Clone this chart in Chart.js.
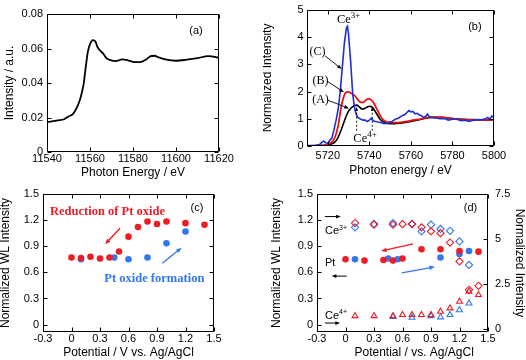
<!DOCTYPE html>
<html>
<head>
<meta charset="utf-8">
<script src="https://cdn.jsdelivr.net/npm/chart.js@4.4.1/dist/chart.umd.min.js"></script>
<style>
  html, body { margin: 0; padding: 0; background: #fff; }
  #page { position: relative; width: 526px; height: 360px; overflow: hidden; }
  canvas { position: absolute; }
</style>
</head>
<body>
<div id="page">
  <canvas id="chartA" width="263" height="180" style="left:0;top:0"></canvas>
  <canvas id="chartB" width="263" height="180" style="left:263px;top:0"></canvas>
  <canvas id="chartC" width="263" height="180" style="left:0;top:180px"></canvas>
  <canvas id="chartD" width="263" height="180" style="left:263px;top:180px"></canvas>
</div>
<script>
// (a) Pt L3-edge XANES
const aEnergy = [11540, 11545, 11548, 11550, 11552, 11554, 11555.5, 11557, 11558, 11559, 11560, 11561.4,
  11562.5, 11563.6, 11564.8, 11566.4, 11567.6, 11569.5, 11572, 11575, 11578, 11580, 11583, 11586, 11588,
  11590, 11592, 11595, 11600, 11605, 11610, 11615, 11618, 11620];
const aIntensity = [0.0173, 0.0183, 0.019, 0.0206, 0.022, 0.026, 0.031, 0.039, 0.049, 0.058, 0.0625, 0.0648,
  0.064, 0.0606, 0.0587, 0.0567, 0.0544, 0.0533, 0.0527, 0.0537, 0.053, 0.0523, 0.0521, 0.0535, 0.0554,
  0.0558, 0.0548, 0.0537, 0.0529, 0.0535, 0.0544, 0.0556, 0.0552, 0.0544];
const aXTicks = [11540, 11560, 11580, 11600, 11620];
const aXLabels = ['11540', '11560', '11580', '11600', '11620'];
const aYTicks = [0, 0.02, 0.04, 0.06, 0.08];
const aYLabels = ['0', '0.02', '0.04', '0.06', '0.08'];

// (b) Ce L3-edge, curves (A) (B) (C)
const bEnergyAB = [5710, 5716, 5720, 5722, 5723.5, 5725, 5726.5, 5728, 5729, 5730, 5731, 5732, 5733, 5734,
  5735, 5736, 5737, 5738, 5739, 5740, 5741, 5742, 5743, 5744, 5745, 5746, 5748, 5750, 5752, 5755, 5760,
  5765, 5770, 5775, 5780, 5785, 5790, 5795, 5800];
const bIntensityA = [0, 0.01, 0.03, 0.08, 0.15, 0.32, 0.6, 0.92, 1.12, 1.28, 1.38, 1.45, 1.49, 1.5,
  1.45, 1.38, 1.36, 1.39, 1.43, 1.46, 1.44, 1.37, 1.25, 1.12, 1.0, 0.92, 0.85, 0.82, 0.82, 0.84, 0.9,
  0.98, 1.05, 1.05, 1.01, 0.98, 0.97, 0.96, 0.96];
const bIntensityB = [0, 0.02, 0.06, 0.15, 0.33, 0.75, 1.45, 1.88, 1.98, 1.99, 1.95, 1.9, 1.85, 1.75,
  1.65, 1.6, 1.6, 1.66, 1.72, 1.73, 1.68, 1.6, 1.45, 1.3, 1.15, 1.02, 0.9, 0.87, 0.86, 0.87, 0.93,
  1.0, 1.06, 1.05, 1.0, 0.97, 0.96, 0.96, 0.96];
const bEnergyC = [5710, 5714, 5716, 5717, 5718, 5719, 5720, 5721, 5722, 5723, 5724, 5725, 5726, 5727,
  5728, 5729, 5729.5, 5730, 5731, 5732, 5733, 5734, 5735, 5736, 5737, 5738, 5739, 5740, 5741, 5742, 5743,
  5744, 5745, 5746, 5747, 5748, 5749, 5750, 5751, 5752, 5753, 5754, 5755, 5756, 5757, 5758, 5759, 5760,
  5761, 5762, 5763, 5764, 5765, 5766, 5767, 5768, 5769, 5770, 5772, 5774, 5776, 5778, 5780, 5782, 5784,
  5786, 5788, 5790, 5792, 5794, 5796, 5797, 5798, 5799, 5800];
const bIntensityC = [0.02, 0.02, 0.05, 0.12, 0.18, 0.12, 0.1, 0.2, 0.3, 0.6, 0.95, 1.35, 2.0, 2.9,
  3.8, 4.35, 4.4, 4.1, 3.1, 1.9, 1.35, 1.1, 1.02, 0.98, 0.95, 0.95, 0.9, 0.95, 1.02, 0.92, 0.9,
  0.88, 0.87, 0.85, 0.82, 0.84, 0.82, 0.88, 0.9, 0.96, 1.0, 1.02, 1.08, 1.12, 1.15, 1.22, 1.3, 1.25,
  1.27, 1.18, 1.2, 1.14, 1.12, 1.05, 1.08, 1.17, 1.06, 1.05, 1.03, 1.0, 1.01, 0.95, 0.98, 1.0, 0.93,
  0.95, 0.9, 0.95, 0.97, 0.96, 1.0, 1.05, 0.98, 1.1, 1.02];
const bXTicks = [5720, 5740, 5760, 5780, 5800];
const bXLabels = ['5720', '5740', '5760', '5780', '5800'];
const bYTicks = [0, 1, 2, 3, 4, 5];
const bYLabels = ['0', '1', '2', '3', '4', '5'];

// (c) Pt white line vs potential
const cReductionPot = [0, 0.1, 0.2, 0.3, 0.4, 0.5, 0.6, 0.7, 0.8, 0.9, 1.0, 1.2, 1.4];
const cReductionWL = [0.77, 0.765, 0.78, 0.76, 0.77, 0.84, 1.01, 1.12, 1.185, 1.155, 1.185, 1.165, 1.146];
const cFormationPot = [0.1, 0.45, 0.6, 0.8, 1.0, 1.2];
const cFormationWL = [0.75, 0.77, 0.75, 0.77, 0.935, 1.07];

// (d) Pt WL (left) and Ce3+/Ce4+ (right)
const dRedPot = [0, 0.2, 0.4, 0.5, 0.6, 0.8, 1.0, 1.2, 1.4];
const dRedWL = [0.75, 0.735, 0.742, 0.735, 0.76, 0.865, 0.865, 0.846, 0.838];
const dBluePot = [0.1, 0.45, 0.55, 1.0, 1.2, 1.3];
const dBlueWL = [0.75, 0.76, 0.75, 0.77, 0.81, 0.846];
const dRedCePot = [0.1, 0.3, 0.5, 0.6, 0.7, 0.8, 0.9, 1.0, 1.1, 1.2, 1.3, 1.4];
const dRedCe3 = [5.89, 5.8, 5.8, 5.83, 5.83, 5.65, 5.43, 5.33, 4.81, 3.76, 2.19, 2.41];
const dRedCe4 = [0.74, 0.74, 0.74, 0.8, 0.8, 0.8, 0.8, 0.98, 1.17, 1.54, 2.09, 1.91];
const dBlueCe3Pot = [0.1, 0.3, 0.5, 0.7, 0.8, 0.9, 1.0, 1.1, 1.2, 1.3];
const dBlueCe3 = [5.65, 5.85, 5.89, 5.85, 5.43, 5.8, 5.56, 5.46, 4.87, 3.57];
const dBlueCe4Pot = [0.5, 0.7, 0.9, 1.0, 1.1, 1.2, 1.3];
const dBlueCe4 = [0.7, 0.65, 0.74, 0.67, 0.8, 1.07, 1.44];

const potTicks = [-0.3, 0, 0.3, 0.6, 0.9, 1.2, 1.5];
const potLabels = ['-0.3', '0', '0.3', '0.6', '0.9', '1.2', '1.5'];
const wlTicks = [0, 0.3, 0.6, 0.9, 1.2, 1.5];
const wlLabels = ['0', '0.3', '0.6', '0.9', '1.2', '1.5'];
const ceTicks = [0, 2.5, 5, 7.5];
const ceLabels = ['0', '2.5', '5', '7.5'];

const SANS = '"Liberation Sans", Arial, sans-serif';
const SERIF = '"Liberation Serif", "Times New Roman", serif';
const RED = '#ee1c24';
const BLUE = '#3377ee';
const TICK = 4;

const pts = (xs, ys) => xs.map((x, i) => ({ x, y: ys[i] }));

// ramka + notranje oznake na vseh štirih straneh
const frameTicks = {
  id: 'frameTicks',
  afterDraw(chart) {
    const { ctx, chartArea: a, scales } = chart;
    const L = Math.round(a.left) + 0.5, R = Math.round(a.right) - 0.5;
    const T = Math.round(a.top) + 0.5, B = Math.round(a.bottom) - 0.5;
    ctx.save();
    ctx.strokeStyle = '#000';
    ctx.lineWidth = 1;
    ctx.beginPath();
    ctx.rect(L, T, R - L, B - T);
    for (const t of scales.x.ticks) {
      const x = Math.round(scales.x.getPixelForValue(t.value)) + 0.5;
      ctx.moveTo(x, B); ctx.lineTo(x, B - TICK);
      ctx.moveTo(x, T); ctx.lineTo(x, T + TICK);
    }
    for (const t of scales.y.ticks) {
      const y = Math.round(scales.y.getPixelForValue(t.value)) + 0.5;
      ctx.moveTo(L, y); ctx.lineTo(L + TICK, y);
      if (!scales.y2) { ctx.moveTo(R, y); ctx.lineTo(R - TICK, y); }
    }
    if (scales.y2) {
      for (const t of scales.y2.ticks) {
        const y = Math.round(scales.y2.getPixelForValue(t.value)) + 0.5;
        ctx.moveTo(R, y); ctx.lineTo(R - TICK, y);
      }
    }
    ctx.stroke();
    ctx.restore();
  },
};

function linAxis(o) {
  const horizontal = o.position === 'bottom';
  return {
    type: 'linear',
    position: o.position,
    min: o.min,
    max: o.max,
    afterBuildTicks: (s) => { s.ticks = o.ticks.map((value) => ({ value })); },
    afterFit: (s) => { if (horizontal) s.height = o.size; else s.width = o.size; },
    grid: { display: false, drawTicks: false },
    border: { display: false },
    ticks: {
      autoSkip: false, maxRotation: 0, padding: o.pad,
      color: '#000', font: { family: SANS, size: 11 },
      callback: (v, i) => o.labels[i],
    },
    title: {
      display: true, text: o.title, color: '#000',
      font: { family: SANS, size: 12 }, padding: o.titlePad,
    },
  };
}

function P(chart, x, y, yId) {
  return [chart.scales.x.getPixelForValue(x), chart.scales[yId || 'y'].getPixelForValue(y)];
}

function arrow(ctx, p1, p2, color, width, head) {
  const ang = Math.atan2(p2[1] - p1[1], p2[0] - p1[0]);
  ctx.strokeStyle = color;
  ctx.fillStyle = color;
  ctx.lineWidth = width;
  ctx.beginPath();
  ctx.moveTo(p1[0], p1[1]);
  ctx.lineTo(p2[0] - head * 0.7 * Math.cos(ang), p2[1] - head * 0.7 * Math.sin(ang));
  ctx.stroke();
  ctx.beginPath();
  ctx.moveTo(p2[0], p2[1]);
  ctx.lineTo(p2[0] - head * Math.cos(ang - 0.38), p2[1] - head * Math.sin(ang - 0.38));
  ctx.lineTo(p2[0] - head * Math.cos(ang + 0.38), p2[1] - head * Math.sin(ang + 0.38));
  ctx.closePath();
  ctx.fill();
}

function text(ctx, str, p, font, color, align) {
  ctx.font = font;
  ctx.fillStyle = color;
  ctx.textAlign = align || 'center';
  ctx.textBaseline = 'middle';
  ctx.fillText(str, p[0], p[1]);
}

function supText(ctx, base, sup, p, family, size, supSize) {
  ctx.fillStyle = '#000';
  ctx.textAlign = 'left';
  ctx.textBaseline = 'alphabetic';
  ctx.font = `${size}px ${family}`;
  ctx.fillText(base, p[0], p[1]);
  const w = ctx.measureText(base).width;
  ctx.font = `${supSize}px ${family}`;
  ctx.fillText(sup, p[0] + w, p[1] - size * 0.38);
}

function makeChart(id, padding, datasets, scales, annotate) {
  return new Chart(document.getElementById(id), {
    type: 'scatter',
    data: { datasets },
    options: {
      responsive: false,
      animation: false,
      devicePixelRatio: 1,
      events: [],
      layout: { padding },
      plugins: { legend: { display: false }, tooltip: { enabled: false } },
      scales,
    },
    plugins: [frameTicks, {
      id: 'notes',
      afterDraw(chart) { chart.ctx.save(); annotate(chart, chart.ctx); chart.ctx.restore(); },
    }],
  });
}

function lineSet(xs, ys, color, width, smooth) {
  return {
    data: pts(xs, ys), showLine: true, borderColor: color, borderWidth: width,
    pointRadius: 0, cubicInterpolationMode: smooth ? 'monotone' : 'default', tension: 0,
  };
}

function markSet(xs, ys, color, style, radius, filled, yAxisID) {
  return {
    data: pts(xs, ys), yAxisID: yAxisID || 'y', pointStyle: style, pointRadius: radius,
    pointBackgroundColor: filled ? color : 'rgba(0,0,0,0)', pointBorderColor: color,
    pointBorderWidth: filled ? 0 : 1.1, borderColor: color, backgroundColor: color,
  };
}

// (a)
makeChart('chartA', { top: 14, right: 44, left: 0, bottom: 0 },
  [lineSet(aEnergy, aIntensity, '#000', 1.8, true)],
  {
    x: linAxis({ position: 'bottom', min: 11540, max: 11620, ticks: aXTicks, labels: aXLabels,
      size: 28, pad: 0.5, title: 'Photon Energy / eV', titlePad: { top: 0, bottom: 0 } }),
    y: linAxis({ position: 'left', min: 0, max: 0.08, ticks: aYTicks, labels: aYLabels,
      size: 47, pad: 4, title: 'Intensity / a.u.', titlePad: { top: 2.8, bottom: 0 } }),
  },
  (chart, ctx) => {
    text(ctx, '(a)', P(chart, 11609.3, 0.0703), `11px ${SANS}`, '#000');
  });

// (b)
makeChart('chartB', { top: 6, right: 32, left: 0, bottom: 0 },
  [
    lineSet(bEnergyC, bIntensityC, '#1f2fd8', 1.6, false),
    lineSet(bEnergyAB, bIntensityB, '#ee1111', 1.8, true),
    lineSet(bEnergyAB, bIntensityA, '#000', 1.6, true),
  ],
  {
    x: linAxis({ position: 'bottom', min: 5710, max: 5800, ticks: bXTicks, labels: bXLabels,
      size: 34, pad: 3.5, title: 'Photon energy / eV', titlePad: { top: 0, bottom: 1.8 } }),
    y: linAxis({ position: 'left', min: 0, max: 5, ticks: bYTicks, labels: bYLabels,
      size: 44, pad: 3.3, title: 'Normalized Intensity', titlePad: { top: -2.2, bottom: 0 } }),
  },
  (chart, ctx) => {
    supText(ctx, 'Ce', '3+', P(chart, 5724.4, 4.525), SERIF, 12.5, 9);
    text(ctx, '(b)', P(chart, 5790.8, 4.36), `11px ${SANS}`, '#000');
    text(ctx, '(C)', P(chart, 5715.05, 3.46), `12px ${SERIF}`, '#000');
    text(ctx, '(B)', P(chart, 5716.5, 2.39), `12px ${SERIF}`, '#000');
    text(ctx, '(A)', P(chart, 5716.5, 1.68), `12px ${SERIF}`, '#000');
    arrow(ctx, P(chart, 5718.7, 3.31), P(chart, 5726.7, 2.83), '#000', 0.9, 5);
    arrow(ctx, P(chart, 5720.1, 2.36), P(chart, 5727.8, 1.975), '#000', 0.9, 5);
    arrow(ctx, P(chart, 5720.1, 1.68), P(chart, 5730.2, 1.38), '#000', 0.9, 5);
    ctx.setLineDash([2, 2]);
    arrow(ctx, P(chart, 5733.9, 0.56), P(chart, 5733.9, 1.43), '#000', 0.9, 4);
    arrow(ctx, P(chart, 5741.4, 0.56), P(chart, 5741.4, 1.43), '#000', 0.9, 4);
    ctx.setLineDash([]);
    supText(ctx, 'Ce', '4+', P(chart, 5732.3, 0.16), SERIF, 12.5, 9);
  });

// (c)
makeChart('chartC', { top: 14, right: 49, left: 0, bottom: 0 },
  [
    markSet(cReductionPot, cReductionWL, RED, 'circle', 3.3, true),
    markSet(cFormationPot, cFormationWL, BLUE, 'circle', 3.3, true),
  ],
  {
    x: linAxis({ position: 'bottom', min: -0.3, max: 1.5, ticks: potTicks, labels: potLabels,
      size: 28, pad: 0.4, title: 'Potential / V vs. Ag/AgCl', titlePad: { top: 0, bottom: 0 } }),
    y: linAxis({ position: 'left', min: -0.085, max: 1.5, ticks: wlTicks, labels: wlLabels,
      size: 43, pad: 4, title: 'Normalized WL Intensity', titlePad: { top: -1.2, bottom: 0 } }),
  },
  (chart, ctx) => {
    text(ctx, '(c)', P(chart, 1.321, 1.341), `11px ${SANS}`, '#000');
    text(ctx, 'Reduction of Pt oxide', P(chart, 0.379, 1.295), `bold 12.5px ${SERIF}`, RED);
    text(ctx, 'Pt oxide formation', P(chart, 0.872, 0.522), `bold 12.5px ${SERIF}`, BLUE);
    arrow(ctx, P(chart, 0.511, 1.107), P(chart, 0.353, 0.923), RED, 1.4, 6);
    arrow(ctx, P(chart, 0.956, 0.704), P(chart, 1.16, 0.884), BLUE, 1.4, 6);
  });

// (d)
makeChart('chartD', { top: 14, right: 0, left: 0, bottom: 0 },
  [
    markSet(dRedPot, dRedWL, RED, 'circle', 3.3, true),
    markSet(dBluePot, dBlueWL, BLUE, 'circle', 3.3, true),
    markSet(dRedCePot, dRedCe3, RED, 'rectRot', 3.6, false, 'y2'),
    markSet(dBlueCe3Pot, dBlueCe3, BLUE, 'rectRot', 3.6, false, 'y2'),
    markSet(dRedCePot, dRedCe4, RED, 'triangle', 3.4, false, 'y2'),
    markSet(dBlueCe4Pot, dBlueCe4, BLUE, 'triangle', 3.4, false, 'y2'),
  ],
  {
    x: linAxis({ position: 'bottom', min: -0.3, max: 1.5, ticks: potTicks, labels: potLabels,
      size: 28, pad: 0.4, title: '       Potential / vs. Ag/AgCl', titlePad: { top: 0, bottom: 0 } }),
    y: linAxis({ position: 'left', min: -0.085, max: 1.5, ticks: wlTicks, labels: wlLabels,
      size: 54, pad: 4, title: 'Normalized WL Intensity', titlePad: { top: 6.8, bottom: 0 } }),
    y2: linAxis({ position: 'right', min: -0.15, max: 7.5, ticks: ceTicks, labels: ceLabels,
      size: 38, pad: 7, title: 'Normalized Intensity', titlePad: { top: -0.9, bottom: 0 } }),
  },
  (chart, ctx) => {
    text(ctx, '(d)', P(chart, 1.316, 1.345), `11px ${SANS}`, '#000');
    arrow(ctx, P(chart, -0.216, 1.241), P(chart, -0.05, 1.241), '#000', 1, 5);
    supText(ctx, 'Ce', '3+', P(chart, -0.216, 1.038), SANS, 11, 7);
    text(ctx, 'Pt', P(chart, -0.216, 0.71), `11px ${SANS}`, '#000', 'left');
    arrow(ctx, P(chart, 0.0126, 0.557), P(chart, -0.145, 0.557), '#000', 1, 5);
    supText(ctx, 'Ce', '4+', P(chart, -0.216, 0.069), SANS, 11, 7);
    arrow(ctx, P(chart, -0.216, 0.018), P(chart, -0.058, 0.018), '#000', 1, 5);
    arrow(ctx, P(chart, 0.7105, 0.926), P(chart, 0.374, 0.845), RED, 1.3, 6);
    arrow(ctx, P(chart, 0.592, 0.595), P(chart, 0.942, 0.664), BLUE, 1.3, 6);
  });
</script>
</body>
</html>
